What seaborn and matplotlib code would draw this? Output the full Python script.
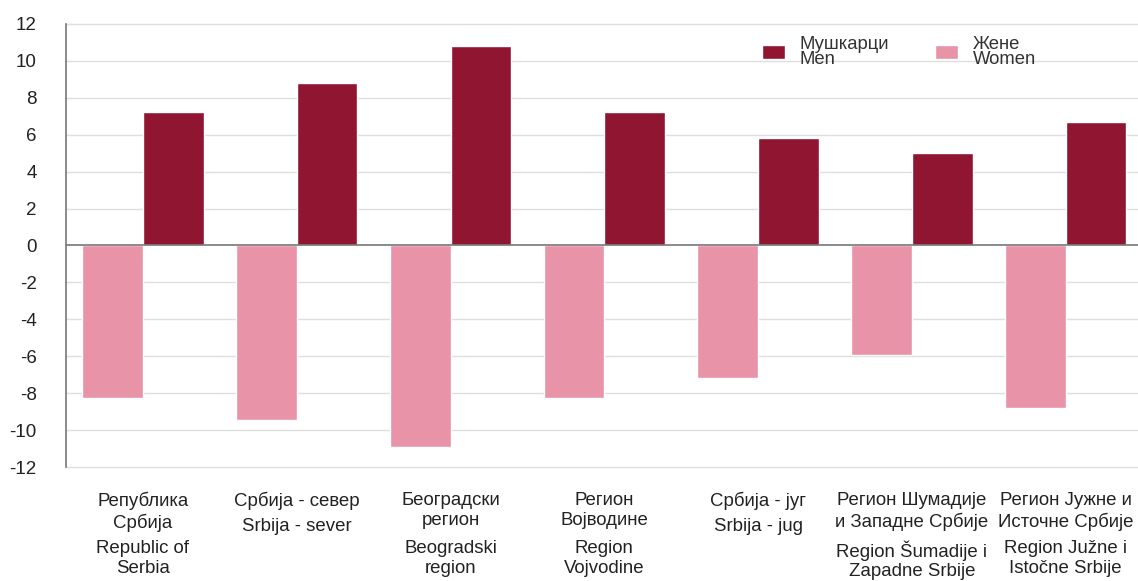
import pandas as pd
import matplotlib
matplotlib.use("Agg")
import matplotlib.pyplot as plt
import seaborn as sns

# Chart values
regions_sr = [
    "Република\nСрбија",
    "Србија - север",
    "Београдски\nрегион",
    "Регион\nВојводине",
    "Србија - југ",
    "Регион Шумадије\nи Западне Србије",
    "Регион Јужне и\nИсточне Србије",
]
regions_lat = [
    "Republic of\nSerbia",
    "Srbija - sever",
    "Beogradski\nregion",
    "Region\nVojvodine",
    "Srbija - jug",
    "Region Šumadije i\nZapadne Srbije",
    "Region Južne i\nIstočne Srbije",
]
men = [7.2, 8.8, 10.8, 7.2, 5.8, 5.0, 6.7]
women = [-8.25, -9.45, -10.9, -8.25, -7.2, -5.95, -8.8]
series_names = ["Жене\nWomen", "Мушкарци\nМen"]
y_ticks = list(range(-12, 13, 2))

df = pd.DataFrame({
    "region": regions_lat * 2,
    "value": women + men,
    "sex": [series_names[0]] * len(regions_lat) + [series_names[1]] * len(regions_lat),
})

sns.set_style("white")
plt.rcParams["font.family"] = ["Liberation Sans", "DejaVu Sans"]

fig = plt.figure(figsize=(11.38, 5.81), dpi=100)
ax = fig.add_axes([0.058, 0.196, 0.942, 0.763])

palette = {series_names[0]: "#e893a8", series_names[1]: "#8f1531"}
sns.barplot(data=df, x="region", y="value", hue="sex", order=regions_lat,
            hue_order=series_names, palette=palette, width=0.79,
            saturation=1, ax=ax, zorder=2)

ax.set_ylim(-12, 12)
ax.set_xlim(-0.5, 6.47)
ax.set_yticks(y_ticks)
ax.set_yticklabels([str(t) for t in y_ticks], fontsize=13.5, color="#222222")
ax.tick_params(axis="y", length=0, pad=21)

# two-block category labels (Cyrillic above Latin)
ax.set_xticks(range(len(regions_lat)))
ax.set_xticklabels([])
ax.tick_params(axis="x", length=0)
line_pt = 16.0  # ~22 px per line
for i, (sr, lat) in enumerate(zip(regions_sr, regions_lat)):
    n = sr.count("\n") + 1
    ax.annotate(sr, xy=(i, 0), xycoords=("data", "axes fraction"),
                xytext=(0, -18.0), textcoords="offset points",
                ha="center", va="top", fontsize=13.4, color="#222222",
                linespacing=1.25)
    ax.annotate(lat, xy=(i, 0), xycoords=("data", "axes fraction"),
                xytext=(0, -18.0 - line_pt * n - 2.5), textcoords="offset points",
                ha="center", va="top", fontsize=13.4, color="#222222",
                linespacing=1.2)

for t in y_ticks:
    if t != 0:
        ax.axhline(t, color="#dedede", lw=1, zorder=0, clip_on=False)
ax.axhline(0, color="#777777", lw=1.2, zorder=3)

for s in ["top", "right", "bottom"]:
    ax.spines[s].set_visible(False)
ax.spines["left"].set_color("#777777")
ax.spines["left"].set_linewidth(1.2)

ax.set_xlabel("")
ax.set_ylabel("")

handles, labels = ax.get_legend_handles_labels()
leg = ax.legend(handles[::-1], labels[::-1], ncol=2, frameon=False,
                loc="upper left", bbox_to_anchor=(0.634, 1.011), fontsize=13.3,
                handlelength=1.22, handleheight=0.85, columnspacing=2.5,
                handletextpad=0.8)
for txt in leg.get_texts():
    txt.set_linespacing(0.9)
    txt.set_color("#333333")

fig.savefig("out.png", dpi=100)
